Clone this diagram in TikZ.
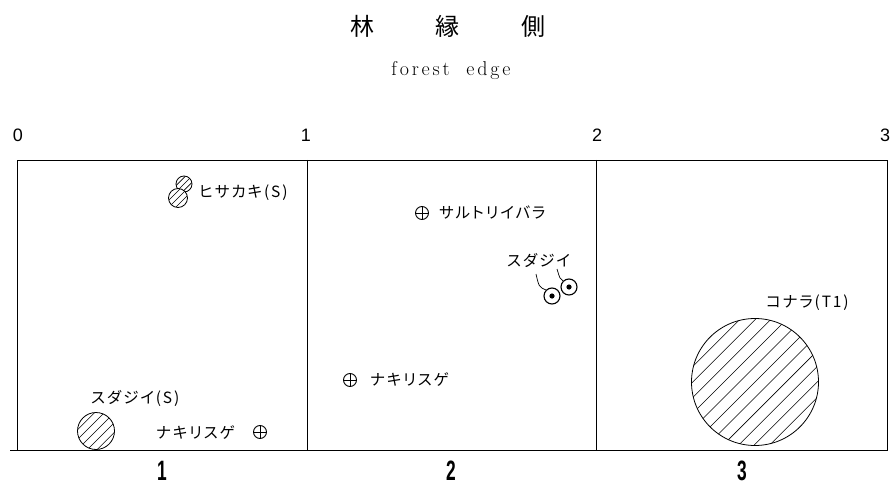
\documentclass[tikz,border=0pt]{standalone}
\usepackage{fontspec}
\newfontfamily\jp[RawFeature=+palt]{Noto Sans CJK JP}
\newfontfamily\jptitle{Noto Sans CJK JP}
\newfontfamily\numf{Liberation Sans}
\newfontfamily\subf[LetterSpace=14]{Latin Modern Roman}
\usetikzlibrary{calc}
\tikzset{
  lbl/.style={font=\jp\addfontfeature{LetterSpace=12}\fontsize{15.5}{15.5}\selectfont, inner sep=0pt, anchor=west},
  toplbl/.style={font=\numf\fontsize{18}{18}\selectfont, inner sep=0pt},
  botlbl/.style={font=\numf\bfseries\fontsize{28}{28}\selectfont, inner sep=0pt},
  frame/.style={line width=0.9pt},
  hatchc/.style 2 args={circle, draw, fill=white, line width=0.8pt, inner sep=0pt, minimum size=#1,
    path picture={
      \foreach \k in {-14,...,14}{
        \draw[line width=0.55pt] ($(path picture bounding box.center)+(\k*#2*1.41421,0)+(-90,90)$) -- ++(180,-180);
      }}},
  plussym/.style={circle, draw, line width=0.9pt, inner sep=0pt, minimum size=13pt,
    path picture={
      \draw[line width=0.9pt] (path picture bounding box.north) -- (path picture bounding box.south)
        (path picture bounding box.west) -- (path picture bounding box.east);}},
  dotc/.style={circle, draw, line width=1.1pt, inner sep=0pt, minimum size=16pt,
    path picture={\fill (path picture bounding box.center) circle (2.6pt);}},
  leader/.style={line width=0.7pt},
}
\begin{document}
\begin{tikzpicture}[x=1pt, y=-1pt]
\useasboundingbox (0,0) rectangle (894,489);
% title
\node[font=\jptitle\fontsize{24}{24}\selectfont, inner sep=0pt] (title) at (448,26) {林\hspace{62pt}縁\hspace{62pt}側};
\node[font=\subf\fontsize{20}{20}\selectfont, inner sep=0pt] (sub) at (451,71) {forest\hspace{8pt} edge};
% scale labels
\node[toplbl] (t0) at (18,135) {0};
\node[toplbl] (t1) at (306,135) {1};
\node[toplbl] (t2) at (597,135) {2};
\node[toplbl] (t3) at (885,135) {3};
% frame
\coordinate (tl) at (17,160);
\coordinate (br) at (887,450);
\coordinate (bl0) at (10,450);
\coordinate (d1t) at (307,160);
\coordinate (d1b) at (307,450);
\coordinate (d2t) at (596,160);
\coordinate (d2b) at (596,450);
\draw[frame] (tl) rectangle (br);
\draw[frame] (bl0) -- (br);
\draw[frame] (d1t) -- (d1b);
\draw[frame] (d2t) -- (d2b);
% bottom labels
\node[botlbl] (b1) at (162,471) {\scalebox{0.62}[1]{1}};
\node[botlbl] (b2) at (451,471) {\scalebox{0.62}[1]{2}};
\node[botlbl] (b3) at (742,471) {\scalebox{0.62}[1]{3}};
% cell 1
\node[hatchc={16pt}{4.5}] (h1) at (184,184) {};
\node[hatchc={19pt}{5}] (h2) at (178,198) {};
\node[lbl] (hskt) at (199,193) {ヒサカキ(S)};
\node[lbl] (sd1t) at (91,398) {スダジイ(S)};
\node[hatchc={37pt}{7}] (sd1) at (96,431) {};
\node[lbl] (nk1t) at (156,433) {ナキリスゲ};
\node[plussym] (nk1) at (260,432) {};
% cell 2
\node[plussym] (sb) at (422,213) {};
\node[lbl] (sbt) at (439,213) {サルトリイバラ};
\node[lbl] (sd2t) at (507,260) {スダジイ};
\node[dotc] (dA) at (552,296) {};
\node[dotc] (dB) at (569,287) {};
\coordinate (lA) at (536,274);
\coordinate (lB) at (557,269);
\draw[leader] (lA) .. controls (539,287) .. (dA.north west);
\draw[leader] (lB) .. controls (560,279) .. (dB.north west);
\node[plussym] (nk2) at (350,380) {};
\node[lbl] (nk2t) at (370,380) {ナキリスゲ};
% cell 3
\node[lbl] (knt) at (766,303) {コナラ(T1)};
\node[hatchc={127pt}{11}] (kn) at (755,382) {};
\end{tikzpicture}
\end{document}
